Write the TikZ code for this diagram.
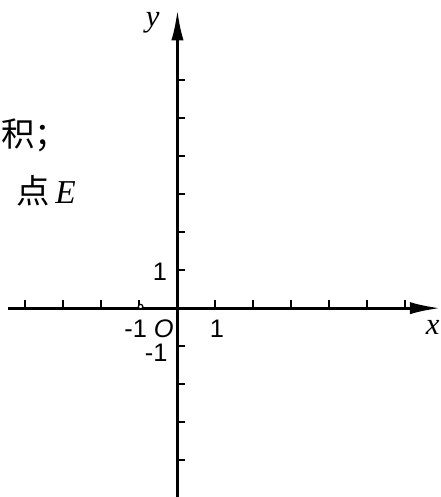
\documentclass[tikz,border=0pt]{standalone}
\usepackage{fontspec}
\setmainfont{Liberation Sans}
\newfontfamily\timesfont{Liberation Serif}
\newfontfamily\cjk{Noto Sans CJK SC}
\usetikzlibrary{arrows.meta, positioning}

\begin{document}
\begin{tikzpicture}[
        axis/.style = {draw=black, line width=2.1pt, -{Latex[length=8mm, width=3.2mm]}},
        tick/.style = {draw=black, line width=1.5pt},
        num/.style = {font=\fontsize{19}{22}\selectfont, inner sep=0pt},
        varlabel/.style = {font=\fontsize{23}{26}\selectfont\timesfont\itshape, inner sep=0pt},
        cntext/.style = {font=\fontsize{25}{28}\selectfont\cjk, inner sep=0pt}
    ]

        \useasboundingbox (-4.67,-4.97) rectangle (6.91,8.11);

        % axes
        \coordinate (o) at (0,0);
        \coordinate (xstart) at (-4.45,0);
        \coordinate (xend) at (6.92,0);
        \coordinate (ystart) at (0,-5.1);
        \coordinate (yend) at (0,7.85);
        \draw [axis] (xstart) -- (xend);
        \draw [axis] (ystart) -- (yend);

        % ticks
        \foreach \i in {-4,...,-1,1,2,...,6}
            \draw [tick] (\i,0) -- (\i,0.22);
        \foreach \j in {-5,...,-1,1,2,...,6}
            \draw [tick] (0,\j) -- (0.2,\j);
        \draw [black, line width=0.9pt, fill=white] (-0.97,0.04) circle (0.06);

        % labels
        \node (ylab) [varlabel] at (-0.65,7.5) {y};
        \node (xlab) [varlabel] at (6.72,-0.5) {x};
        \node (origin) [num, font=\fontsize{19}{22}\selectfont\itshape] at (-0.36,-0.53) {O};
        \node (xone) [num] at (1.04,-0.55) {1};
        \node (xmone) [num] at (-1.1,-0.55) {-1};
        \node (yone) [num] at (-0.46,0.95) {1};
        \node (ymone) [num] at (-0.56,-1.17) {-1};

        % text left of the axes
        \node (area) [cntext, anchor=west] at (-4.65,4.55) {积；};
        \node (pointE) [cntext] at (-3.46,3.1) {点\,{\timesfont\itshape E}};

    \end{tikzpicture}
\end{document}
